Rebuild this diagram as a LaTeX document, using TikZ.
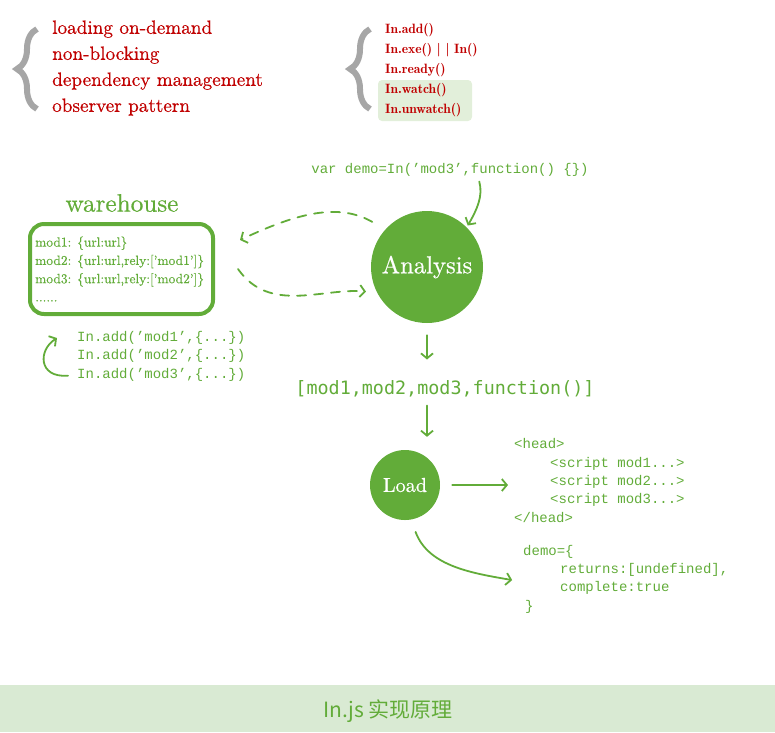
\documentclass[tikz,border=0pt]{standalone}
\usepackage{fontspec}
\usepackage{tikz}
\usetikzlibrary{arrows.meta}
\usetikzlibrary{decorations.pathreplacing}
\newfontfamily\cjk{Noto Sans CJK SC}
\newfontfamily\mono{Liberation Mono}
\newfontfamily\widemono{DejaVu Sans Mono}
\newfontfamily\demi{lmromandemi10-regular.otf}
\newfontfamily\firm{lmroman10-regular.otf}[FakeBold=0.5]
\definecolor{leaf}{RGB}{98,172,57}
\definecolor{crimson}{RGB}{192,0,0}
\definecolor{brgray}{RGB}{166,166,166}
\definecolor{band}{RGB}{217,234,211}
\definecolor{mint}{RGB}{226,239,218}

\begin{document}
\begin{tikzpicture}[x=1pt,y=1pt,
  snippet/.style={font=\mono\fontsize{14}{18.3}\selectfont,text=leaf,inner sep=0,align=left},
  ball/.style={circle,fill=leaf,text=white,inner sep=0},
  hand/.style={draw=leaf,line width=1.8pt,line cap=round,-{Straight Barb[length=5pt,width=12pt]}},
  curly/.style={draw=brgray,line width=6pt,decorate,decoration={brace,amplitude=20pt}}]

      \useasboundingbox (0,0) rectangle (775,-732);
      \fill[band] (0,-685) rectangle (775,-732);
      \node[font=\cjk\fontsize{21}{21}\selectfont,text=leaf] (title) at (388,-711) {In.js 实现原理};

      % top lists
      \draw[curly] (37,-109) -- (37,-29);
      \draw[curly] (370,-109) -- (370,-29);
      \node[font=\firm\fontsize{19.2}{26}\selectfont,text=crimson,align=left,inner sep=0,anchor=west] (traits) at (52,-68)
        {loading on-demand\\non-blocking\\dependency management\\observer pattern};
      \fill[mint,rounded corners=4pt] (378,-80) rectangle (472,-121);
      \node[font=\demi\fontsize{13.5}{20}\selectfont,text=crimson,align=left,inner sep=0,anchor=west] (api) at (385,-70)
        {In.add()\\In.exe() | | In()\\In.ready()\\In.watch()\\In.unwatch()};

      % warehouse
      \node[draw=leaf,line width=4pt,rounded corners=14pt,minimum width=183pt,minimum height=90pt] (wh) at (121.5,-269) {};
      \node[font=\firm\fontsize{25.2}{25.2}\selectfont,text=leaf] (whlabel) at (122,-203) {warehouse};
      \node[font=\firm\fontsize{13.4}{18.3}\selectfont,text=leaf,align=left,inner sep=0,anchor=west] (store) at (35,-269)
        {mod1: \{url:url\}\\mod2: \{url:url,rely:[’mod1’]\}\\mod3: \{url:url,rely:[’mod2’]\}\\......};
      \node[snippet,anchor=west] (add1) at (77,-338) {In.add(’mod1’,\{...\})};
      \node[snippet,anchor=west] (add2) at (77,-356) {In.add(’mod2’,\{...\})};
      \node[snippet,anchor=west] (add3) at (77,-375) {In.add(’mod3’,\{...\})};

      % flow
      \node[snippet] (call) at (450,-170) {var demo=In(’mod3’,function() \{\})};
      \node[ball,minimum size=112pt,font=\firm\fontsize{24.6}{24.6}\selectfont] (ana) at (427,-267) {Analysis};
      \node[font=\widemono\fontsize{18.4}{18.4}\selectfont,text=leaf,inner sep=0] (mods) at (445,-389) {[mod1,mod2,mod3,function()]};
      \node[ball,minimum size=70pt,font=\firm\fontsize{20.2}{20.2}\selectfont] (load) at (405,-485) {Load};
      \node[snippet,anchor=west] (head) at (514,-480.5)
        {<head>\\\hspace*{36pt}<script mod1...>\\\hspace*{36pt}<script mod2...>\\\hspace*{36pt}<script mod3...>\\</head>};
      \node[snippet,anchor=west] (demo) at (523,-579)
        {demo=\{\\\hspace*{37pt}returns:[undefined],\\\hspace*{37pt}complete:true\\\hspace*{2pt}\}};

      \draw[hand,shorten <=9pt] (add3.west) .. controls (38,-378) and (38,-350) .. ([xshift=-20pt]add1.west);
      \draw[hand,shorten <=5pt,shorten >=2pt] ([xshift=28pt]call.south) to[out=-75,in=60] (ana.north east);
      \draw[hand,dash pattern=on 9pt off 8pt,shorten <=15pt] (ana.138) to[out=150,in=25] ([shift={(25pt,29pt)}]wh.east);
      \draw[hand,dash pattern=on 9pt off 8pt,shorten >=11pt] ([xshift=23pt]wh.east) to[out=-55,in=175] (ana.207);
      \draw[hand,shorten <=12pt,shorten >=21pt] (ana.south) -- (ana.south |- mods.north);
      \draw[hand,shorten <=8pt,shorten >=13pt] (ana.south |- mods.south) -- (ana.south |- load.north);
      \draw[hand,shorten <=12pt,shorten >=6pt] (load.east) -- (load.east -| head.west);
      \draw[hand,shorten <=13pt,shorten >=11pt] (load.-80) to[out=-70,in=170] ([yshift=-3pt]demo.west);
    \end{tikzpicture}
\end{document}
